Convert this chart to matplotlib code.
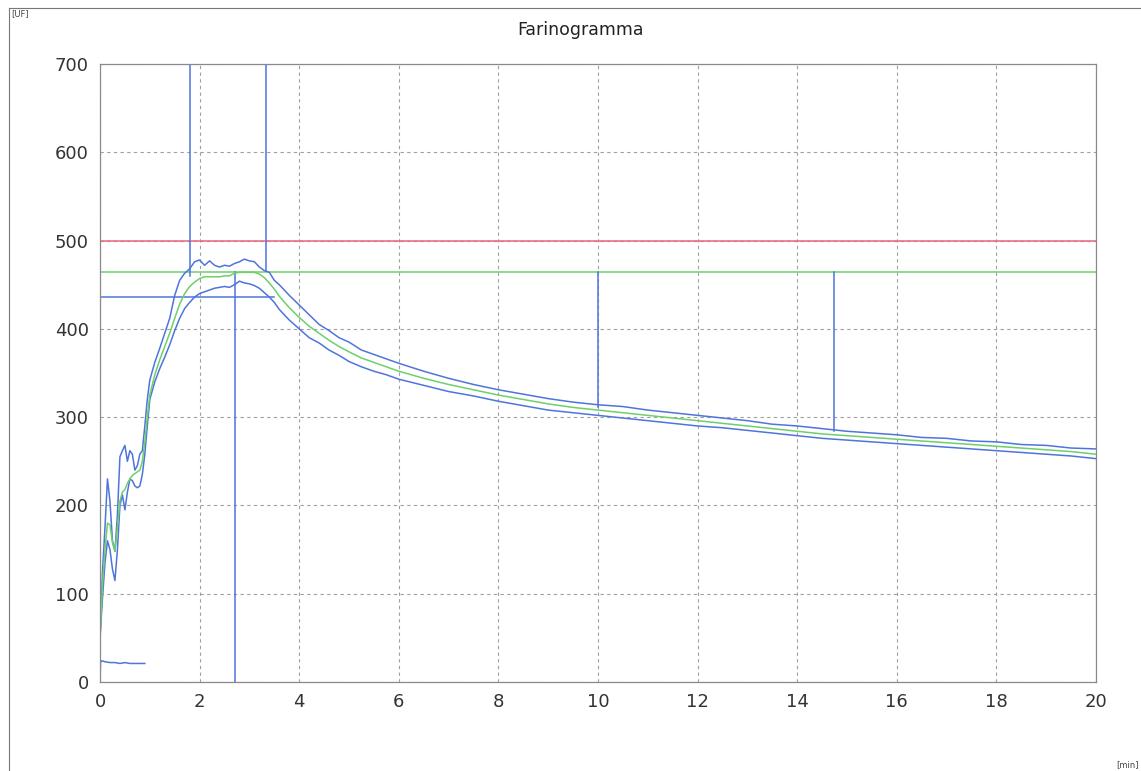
"""Farinogramma: consistency curve (UF) against time (min)."""

import matplotlib.pyplot as plt
from matplotlib.lines import Line2D

BLUE = '#4f74dc'
GREEN = '#6fcf6a'
RED = '#e8667a'
GRID = '#a0a0a0'

time_min = [0, 0.05, 0.1, 0.15, 0.2, 0.25, 0.3, 0.35, 0.4, 0.45, 0.5, 0.55,
            0.6, 0.65, 0.7, 0.75, 0.8, 0.85, 0.9, 0.95, 1.0, 1.1, 1.2, 1.3,
            1.4, 1.5, 1.6, 1.7, 1.8, 1.9, 2.0, 2.1, 2.2, 2.3, 2.4, 2.5, 2.6,
            2.7, 2.8, 2.9, 3.0, 3.1, 3.2, 3.3, 3.4, 3.5, 3.6, 3.8, 4.0, 4.2,
            4.4, 4.6, 4.8, 5.0, 5.25, 5.5, 5.75, 6.0, 6.5, 7.0, 7.5, 8.0, 8.5,
            9.0, 9.5, 10, 10.5, 11, 11.5, 12, 12.5, 13, 13.5, 14, 14.5, 15,
            15.5, 16, 16.5, 17, 17.5, 18, 18.5, 19, 19.5, 20]

curve_mid = [50, 110, 150, 180, 178, 158, 148, 175, 205, 215, 218, 225,
             230, 234, 236, 238, 240, 250, 272, 300, 325, 348, 365, 380,
             395, 412, 428, 440, 448, 453, 457, 459, 459, 459, 459, 460, 460,
             463, 464, 464, 464, 464, 462, 458, 452, 445, 437, 424, 413, 403,
             395, 387, 380, 374, 367, 362, 357, 352, 344, 337, 331, 325, 320,
             315, 311, 308, 305, 302, 299, 296, 293, 290, 287, 284, 281, 279,
             277, 275, 273, 271, 269, 267, 265, 263, 261, 258]

curve_upper = [50, 125, 175, 230, 205, 160, 148, 190, 255, 262, 268, 250,
               262, 258, 240, 245, 258, 262, 290, 320, 342, 362, 378, 395,
               412, 438, 455, 463, 468, 476, 478, 472, 477, 472, 470, 472, 471,
               474, 476, 479, 477, 476, 470, 466, 464, 455, 450, 438, 427, 416,
               405, 398, 390, 385, 376, 371, 366, 361, 352, 344, 337, 331, 326,
               321, 317, 314, 312, 308, 305, 302, 299, 296, 292, 290, 287, 284,
               282, 280, 277, 276, 273, 272, 269, 268, 265, 264]

curve_lower = [50, 95, 135, 160, 150, 128, 115, 150, 200, 212, 195, 215,
               230, 228, 222, 220, 222, 235, 258, 290, 320, 340, 355, 368,
               382, 398, 412, 423, 430, 436, 440, 442, 444, 446, 447, 448, 447,
               450, 454, 452, 451, 449, 446, 441, 436, 430, 422, 410, 400, 390,
               384, 376, 370, 363, 357, 352, 348, 343, 336, 329, 324, 318, 313,
               308, 305, 302, 299, 296, 293, 290, 288, 285, 282, 279, 276, 274,
               272, 270, 268, 266, 264, 262, 260, 258, 256, 253]

# small temperature-like trace near the bottom
trace_time = [0, 0.01, 0.03, 0.1, 0.2, 0.3, 0.4, 0.5, 0.6, 0.7, 0.8, 0.9]
trace_value = [0, 22, 24, 23, 22, 22, 21, 22, 21, 21, 21, 21]

# reference lines
line_500 = 500
line_peak = 464
line_arrival = 436
arrival_end = 3.5

# vertical markers: (x, y_from, y_to)
marker_x = [1.81, 3.33, 2.71, 10.0, 14.74]
marker_y0 = [460, 466, 0, 312, 284]
marker_y1 = [700, 700, 464, 464, 464]

fig = plt.figure(figsize=(11.41, 7.71), dpi=100)
ax = fig.add_axes([100 / 1141, 89 / 771, 996 / 1141, 618 / 771])

ax.axhline(line_500, color=RED, linewidth=1.1)
ax.axhline(line_peak, color=GREEN, linewidth=1.1)
ax.plot([0, arrival_end], [line_arrival, line_arrival], color=BLUE,
        linewidth=1.1)
for x, y0, y1 in zip(marker_x, marker_y0, marker_y1):
    ax.plot([x, x], [y0, y1], color=BLUE, linewidth=1.1)

ax.plot(time_min, curve_upper, color=BLUE, linewidth=1.1)
ax.plot(time_min, curve_lower, color=BLUE, linewidth=1.1)
ax.plot(time_min, curve_mid, color=GREEN, linewidth=1.1)
ax.plot(trace_time, trace_value, color=BLUE, linewidth=1.1)

ax.set_xlim(0, 20)
ax.set_ylim(0, 700)
ax.set_xticks(range(0, 21, 2))
ax.set_yticks(range(0, 701, 100))
ax.grid(True, color=GRID, linestyle=(0, (3, 3)), linewidth=0.8)
ax.tick_params(length=0, pad=8, labelsize=13, colors='#333333')
for spine in ax.spines.values():
    spine.set_color('#8a8a8a')
    spine.set_linewidth(0.9)

fig.text(581 / 1141, 1 - 30 / 771, 'Farinogramma', ha='center',
         va='center', fontsize=12.5, color='#222222')
fig.text(11 / 1141, 1 - 14 / 771, '[UF]', ha='left', va='center',
         fontsize=6, color='#444444')
fig.text(1139 / 1141, 1 - 765 / 771, '[min]', ha='right', va='center',
         fontsize=6, color='#444444')

# outer frame of the scanned report
fig.add_artist(Line2D([9 / 1141, 1], [1 - 8 / 771, 1 - 8 / 771],
                      color='#777777', linewidth=0.8))
fig.add_artist(Line2D([9 / 1141, 9 / 1141], [1 - 8 / 771, 0],
                      color='#777777', linewidth=0.8))

fig.savefig('out.png', dpi=100)
